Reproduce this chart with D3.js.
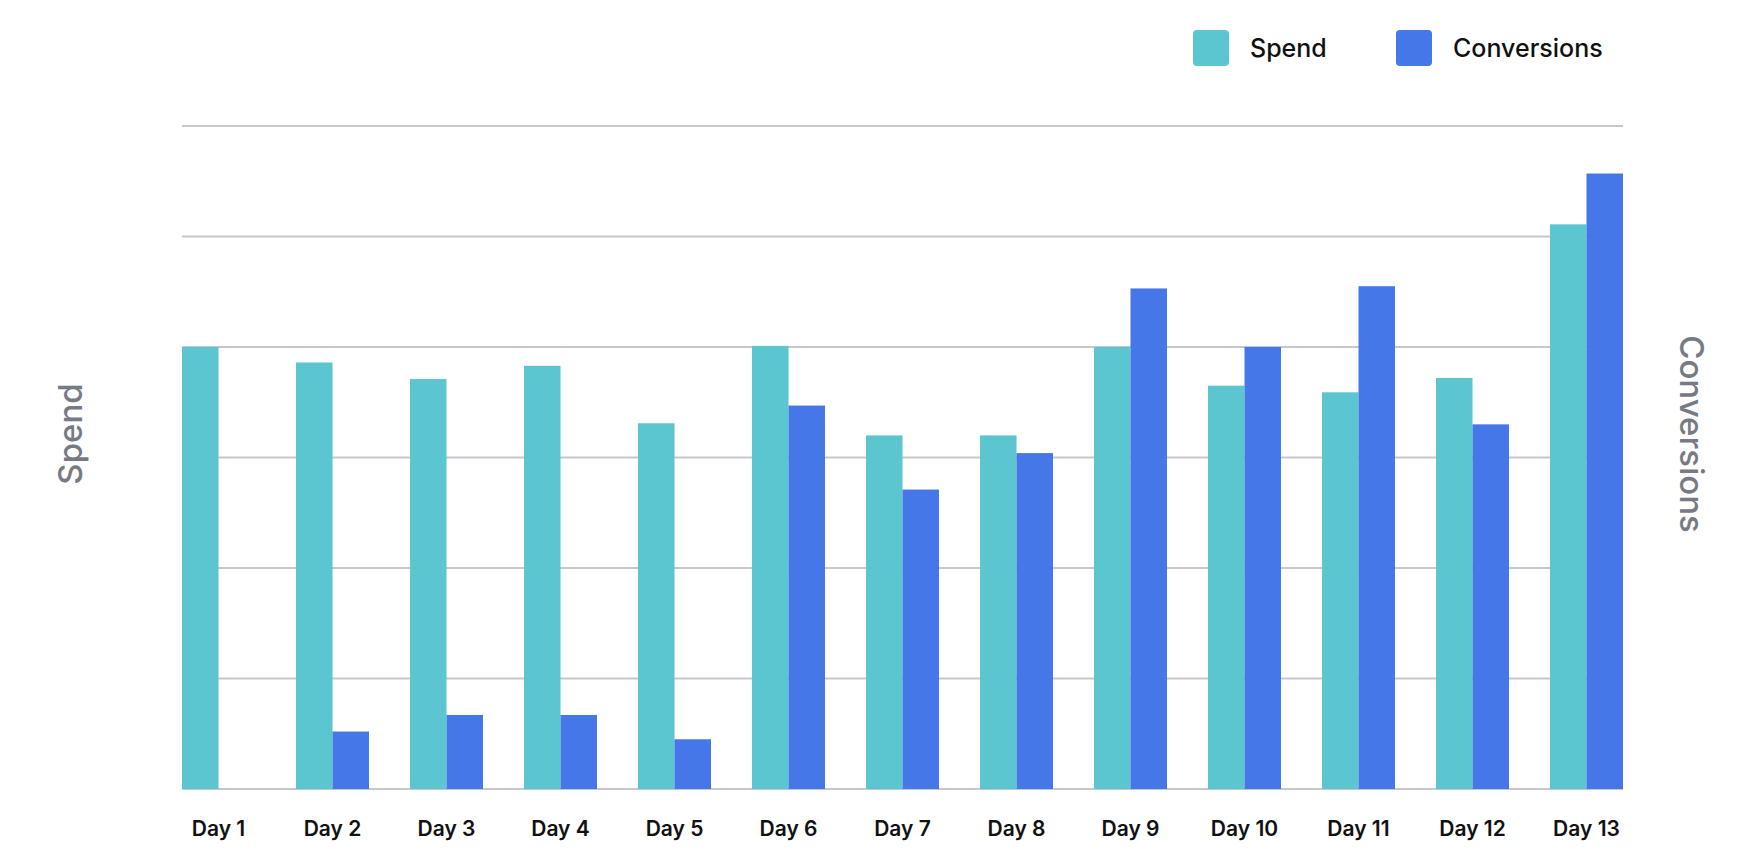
<!DOCTYPE html>
<html><head><meta charset="utf-8">
<script src="https://cdn.jsdelivr.net/npm/d3@7"></script>
<style>body{margin:0;background:#fff}</style></head>
<body><svg id="c" width="1738" height="862"></svg>
<script>
const days = ["Day 1","Day 2","Day 3","Day 4","Day 5","Day 6","Day 7","Day 8","Day 9","Day 10","Day 11","Day 12","Day 13"];
const spend = [4.0,3.86,3.71,3.83,3.31,4.01,3.2,3.2,4.0,3.65,3.59,3.72,5.11];
const conversions = [0,0.52,0.67,0.67,0.45,3.47,2.71,3.04,4.53,4.0,4.55,3.3,5.57];
const gridTicks = [0,1,2,3,4,5,6];
const seriesNames = ["Spend","Conversions"];
const colors = ["#5bc5d0","#4577e8"];

const svg = d3.select("#c");
const L=182,R=1623,T=126,B=789,bw=36.5;
const x = d3.scalePoint().domain(days).range([L+bw,R-bw]);
const y = d3.scaleLinear().domain([0,6]).range([B,T]);

svg.append("g").selectAll("line").data(gridTicks).join("line")
 .attr("x1",L).attr("x2",R).attr("y1",d=>y(d)).attr("y2",d=>y(d))
 .attr("stroke","#c4c7cc").attr("stroke-width",2);

[spend,conversions].forEach((arr,si)=>{
 svg.append("g").selectAll("rect").data(arr).join("rect")
  .attr("x",(d,i)=>x(days[i])+(si?0:-bw)).attr("width",bw)
  .attr("y",d=>y(d)).attr("height",d=>B-y(d)).attr("fill",colors[si]);
});

svg.append("g").selectAll("text").data(days).join("text")
 .attr("x",d=>x(d)).attr("y",836).attr("text-anchor","middle")
 .attr("font-family","Inter").attr("font-weight",600).attr("font-size",21).attr("fill","#111").text(d=>d);

svg.append("text").attr("transform","translate(82,434) rotate(-90)").attr("text-anchor","middle")
 .attr("font-family","Inter").attr("font-weight",500).attr("font-size",33).attr("fill","#777a82").text("Spend");
svg.append("text").attr("transform","translate(1680,434) rotate(90)").attr("text-anchor","middle")
 .attr("font-family","Inter").attr("font-weight",500).attr("font-size",33).attr("fill","#777a82").text("Conversions");

const lx=[1193,1396];
seriesNames.forEach((n,i)=>{
 svg.append("rect").attr("x",lx[i]).attr("y",30).attr("width",36).attr("height",36).attr("rx",4).attr("fill",colors[i]);
 svg.append("text").attr("x",lx[i]+57).attr("y",57).attr("font-family","Inter").attr("font-weight",500)
  .attr("font-size",25).attr("fill","#111").text(n);
});
</script></body></html>
